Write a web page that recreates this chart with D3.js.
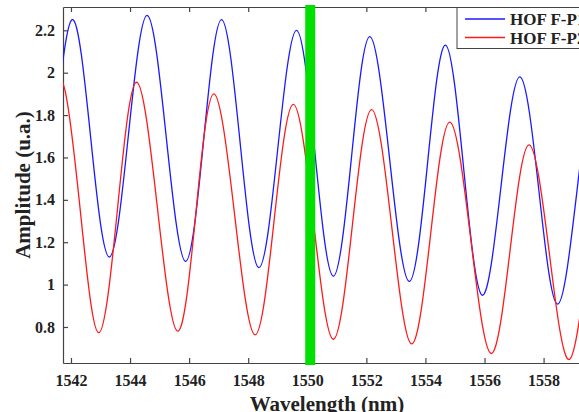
<!DOCTYPE html>
<html>
<head>
<meta charset="utf-8">
<script src="https://cdn.jsdelivr.net/npm/d3@7"></script>
<style>
  body { margin: 0; background: #fff; }
  svg { display: block; }
  .axis text { font-family: "Liberation Serif", "Times New Roman", serif; font-weight: bold; font-size: 16px; fill: #222; }
  .axis path, .axis line { stroke: #444; stroke-width: 1.2; }
  .title { font-family: "Liberation Serif", "Times New Roman", serif; font-weight: bold; font-size: 21px; fill: #222; }
  .legend text { font-family: "Liberation Serif", "Times New Roman", serif; font-weight: bold; font-size: 17px; fill: #222; }
</style>
</head>
<body>
<div id="root"></div>
<script>
// spectra (peaks, troughs and the points between)
var p1Wavelength = [1540.78, 1541.41, 1542.04, 1542.67, 1543.30, 1543.94, 1544.58, 1545.23, 1545.88, 1546.49, 1547.10,
    1547.73, 1548.36, 1549.00, 1549.64, 1550.26, 1550.88, 1551.50, 1552.12, 1552.79, 1553.45,
    1554.07, 1554.68, 1555.30, 1555.92, 1556.56, 1557.20, 1557.84, 1558.47, 1559.12, 1559.78, 1560.42];
var p1Amplitude = [1.14, 1.69, 2.25, 1.69, 1.13, 1.70, 2.27, 1.69, 1.11, 1.68, 2.25,
    1.665, 1.08, 1.64, 2.20, 1.62, 1.04, 1.605, 2.17, 1.59, 1.015,
    1.57, 2.13, 1.54, 0.95, 1.465, 1.98, 1.445, 0.908, 1.43, 1.95, 1.40];

var p2Wavelength = [1540.96, 1541.30, 1541.66, 1542.30, 1542.94, 1543.58, 1544.22, 1544.92, 1545.61, 1546.23, 1546.84, 1547.54,
    1548.23, 1548.88, 1549.53, 1550.21, 1550.88, 1551.53, 1552.18, 1552.86, 1553.53, 1554.18,
    1554.83, 1555.53, 1556.22, 1556.87, 1557.51, 1558.19, 1558.87, 1559.53, 1560.19];
var p2Amplitude = [0.79, 1.37, 1.96, 1.37, 0.773, 1.364, 1.955, 1.37, 0.78, 1.34, 1.90, 1.33,
    0.763, 1.306, 1.85, 1.296, 0.742, 1.284, 1.826, 1.273, 0.72, 1.243,
    1.767, 1.221, 0.675, 1.167, 1.659, 1.153, 0.647, 1.15, 1.62];

var seriesNames = ["HOF F-P1", "HOF F-P2"];
var seriesColors = ["#1a1aff", "#ff1a1a"];
var markerWavelength = 1550.1;

var xTicks = [1542, 1544, 1546, 1548, 1550, 1552, 1554, 1556, 1558];
var yTicks = [0.8, 1, 1.2, 1.4, 1.6, 1.8, 2, 2.2];
var yTickLabels = ["0.8", "1", "1.2", "1.4", "1.6", "1.8", "2", "2.2"];

var width = 579, height = 412;
var plot = { left: 63, right: 600, top: 7, bottom: 363 };

var x = d3.scaleLinear().domain([1541.73, 1559.91]).range([plot.left, plot.right]);
var y = d3.scaleLinear().domain([0.63, 2.31]).range([plot.bottom, plot.top]);

var svg = d3.select("#root").append("svg")
    .attr("width", width)
    .attr("height", height);

svg.append("defs").append("clipPath")
    .attr("id", "clip")
    .append("rect")
    .attr("x", plot.left)
    .attr("y", plot.top)
    .attr("width", plot.right - plot.left)
    .attr("height", plot.bottom - plot.top);

// axes, ticks pointing inward like matlab
svg.append("g")
    .attr("class", "x axis")
    .attr("transform", "translate(0," + plot.bottom + ")")
    .call(d3.axisBottom(x).tickValues(xTicks).tickSizeInner(-5).tickSizeOuter(0).tickPadding(12).tickFormat(d3.format("d")));

svg.append("g")
    .attr("class", "x axis")
    .attr("transform", "translate(0," + plot.top + ")")
    .call(d3.axisTop(x).tickValues(xTicks).tickSizeInner(-5).tickSizeOuter(0).tickFormat(""));

svg.append("g")
    .attr("class", "y axis")
    .attr("transform", "translate(" + plot.left + ",0)")
    .call(d3.axisLeft(y).tickValues(yTicks).tickSizeInner(-5).tickSizeOuter(0).tickPadding(8)
        .tickFormat(function (d, i) { return yTickLabels[i]; }));

svg.append("text")
    .attr("class", "title")
    .attr("x", 327)
    .attr("y", 411)
    .attr("text-anchor", "middle")
    .text("Wavelength (nm)");

svg.append("text")
    .attr("class", "title")
    .attr("transform", "translate(30," + ((plot.top + plot.bottom) / 2) + ") rotate(-90)")
    .attr("text-anchor", "middle")
    .text("Amplitude (u.a.)");

var line = d3.line()
    .x(function (d) { return x(d[0]); })
    .y(function (d) { return y(d[1]); })
    .curve(d3.curveNatural);

var series = [
    d3.zip(p1Wavelength, p1Amplitude),
    d3.zip(p2Wavelength, p2Amplitude)
];

svg.append("g")
    .attr("clip-path", "url(#clip)")
    .selectAll(".curve")
    .data(series)
    .enter()
    .append("path")
    .attr("class", "curve")
    .attr("d", line)
    .attr("fill", "none")
    .attr("stroke", function (d, i) { return seriesColors[i]; })
    .attr("stroke-width", 1.3);

// green marker at 1550 nm
svg.append("line")
    .attr("x1", x(markerWavelength))
    .attr("x2", x(markerWavelength))
    .attr("y1", y.range()[1] - 2)
    .attr("y2", y.range()[0] + 2)
    .attr("stroke", "#00e000")
    .attr("stroke-width", 10);

// legend (runs off the right edge in the original)
var legend = svg.append("g").attr("class", "legend");
legend.append("rect")
    .attr("x", 457)
    .attr("y", 7.5)
    .attr("width", 160)
    .attr("height", 41)
    .attr("fill", "#fff")
    .attr("stroke", "#444")
    .attr("stroke-width", 1);

var item = legend.selectAll(".item")
    .data(seriesNames)
    .enter()
    .append("g")
    .attr("class", "item")
    .attr("transform", function (d, i) { return "translate(0," + (19 + i * 18.5) + ")"; });

item.append("line")
    .attr("x1", 465)
    .attr("x2", 505)
    .attr("stroke", function (d, i) { return seriesColors[i]; })
    .attr("stroke-width", 1.3);

item.append("text")
    .attr("x", 510)
    .attr("y", 6)
    .text(function (d) { return d; });
</script>
</body>
</html>
